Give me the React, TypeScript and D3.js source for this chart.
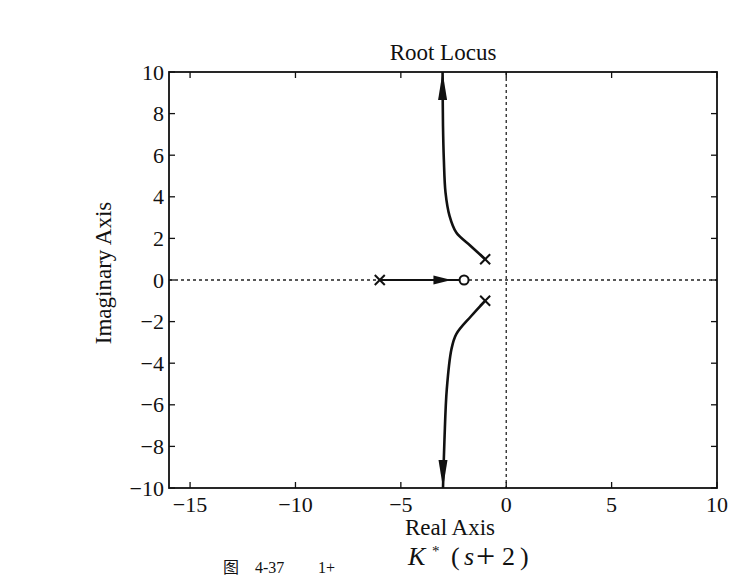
import React from "react";
import * as d3 from "d3";

const xTicks = [-15, -10, -5, 0, 5, 10];
const yTicks = [-10, -8, -6, -4, -2, 0, 2, 4, 6, 8, 10];
const xDomain = [-16, 10];
const yDomain = [-10, 10];

const poles: [number, number][] = [[-6, 0], [-1, 1], [-1, -1]];
const zeros: [number, number][] = [[-2, 0]];

const upperBranch: [number, number][] = [
  [-1, 1], [-1.7, 1.65], [-2.37, 2.28], [-2.69, 3.08], [-2.88, 4.2],
  [-2.96, 5.8], [-3.0, 7.4], [-3.02, 10],
];
const lowerBranch: [number, number][] = [
  [-1, -1], [-1.66, -1.73], [-2.37, -2.6], [-2.6, -3.33], [-2.82, -5.25],
  [-2.93, -7.66], [-3.0, -10],
];
const realBranch: [number, number][] = [[-6, 0], [-2, 0]];
const realArrowTip = -2.6;

const title = "Root Locus";
const xLabel = "Real Axis";
const yLabel = "Imaginary Axis";

const W = 740, H = 580;
const L = 169, R = 717, T = 72, B = 488;
const FONT = "'Liberation Serif', 'Times New Roman', serif";

const fmt = (v: number) => (v < 0 ? "\u2212" + Math.abs(v) : String(v));

export default function App() {
  const x = d3.scaleLinear().domain(xDomain).range([L, R]);
  const y = d3.scaleLinear().domain(yDomain).range([B, T]);
  const line = d3.line<[number, number]>().x(d => x(d[0])).y(d => y(d[1])).curve(d3.curveCatmullRom.alpha(0.5));

  const arrowLen = 28, arrowHalf = 4.5;
  const upTip = upperBranch[upperBranch.length - 1];
  const dnTip = lowerBranch[lowerBranch.length - 1];
  const upArrow = `M${x(upTip[0])},${y(upTip[1])} L${x(upTip[0]) - arrowHalf},${y(upTip[1]) + arrowLen} L${x(upTip[0]) + arrowHalf},${y(upTip[1]) + arrowLen} Z`;
  const dnArrow = `M${x(dnTip[0])},${y(dnTip[1])} L${x(dnTip[0]) - arrowHalf},${y(dnTip[1]) - arrowLen} L${x(dnTip[0]) + arrowHalf},${y(dnTip[1]) - arrowLen} Z`;
  const rx = x(realArrowTip), ry = y(0);
  const rArrow = `M${rx},${ry} L${rx - 18},${ry - 4.5} L${rx - 18},${ry + 4.5} Z`;

  const tickLen = 6;
  const mk = 5;

  return (
    <svg width={W} height={H} style={{ position: "fixed", left: 0, top: 0, background: "#fff" }} fontFamily={FONT}>
      <rect x={0} y={0} width={W} height={H} fill="#fff" />
      <line x1={L} x2={R} y1={y(0)} y2={y(0)} stroke="#222" strokeWidth={1.3} strokeDasharray="3,3" />
      <line x1={x(0)} x2={x(0)} y1={T} y2={B} stroke="#222" strokeWidth={1.3} strokeDasharray="3,3" />
      {xTicks.map(t => (
        <g key={"xt" + t}>
          <line x1={x(t)} x2={x(t)} y1={B} y2={B - tickLen} stroke="#111" strokeWidth={1.3} />
          <line x1={x(t)} x2={x(t)} y1={T} y2={T + tickLen} stroke="#111" strokeWidth={1.3} />
          <text x={x(t)} y={512} textAnchor="middle" fontSize={22} fill="#111">{fmt(t)}</text>
        </g>
      ))}
      {yTicks.map(t => (
        <g key={"yt" + t}>
          <line x1={L} x2={L + tickLen} y1={y(t)} y2={y(t)} stroke="#111" strokeWidth={1.3} />
          <line x1={R} x2={R - tickLen} y1={y(t)} y2={y(t)} stroke="#111" strokeWidth={1.3} />
          <text x={164} y={y(t) + 7.5} textAnchor="end" fontSize={22} fill="#111">{fmt(t)}</text>
        </g>
      ))}
      <rect x={L} y={T} width={R - L} height={B - T} fill="none" stroke="#111" strokeWidth={1.8} />
      <path d={line(upperBranch) || ""} fill="none" stroke="#111" strokeWidth={2.6} />
      <path d={line(lowerBranch) || ""} fill="none" stroke="#111" strokeWidth={2.6} />
      <path d={d3.line<[number, number]>().x(d => x(d[0])).y(d => y(d[1]))(realBranch) || ""} fill="none" stroke="#111" strokeWidth={2.2} />
      <path d={upArrow} fill="#111" />
      <path d={dnArrow} fill="#111" />
      <path d={rArrow} fill="#111" />
      {poles.map((p, i) => (
        <g key={"p" + i} stroke="#111" strokeWidth={2}>
          <line x1={x(p[0]) - mk} x2={x(p[0]) + mk} y1={y(p[1]) - mk} y2={y(p[1]) + mk} />
          <line x1={x(p[0]) - mk} x2={x(p[0]) + mk} y1={y(p[1]) + mk} y2={y(p[1]) - mk} />
        </g>
      ))}
      {zeros.map((z, i) => (
        <circle key={"z" + i} cx={x(z[0])} cy={y(z[1])} r={4.5} fill="#fff" stroke="#111" strokeWidth={2} />
      ))}
      <text x={(L + R) / 2} y={60} textAnchor="middle" fontSize={23} fill="#111">{title}</text>
      <text x={450} y={535} textAnchor="middle" fontSize={23} fill="#111">{xLabel}</text>
      <text transform={`translate(111,273) rotate(-90)`} textAnchor="middle" fontSize={23} fill="#111">{yLabel}</text>
      {/* caption */}
      <g fontSize={26} fill="#111">
        <text x={408} y={565} fontStyle="italic">K</text>
        <text x={432} y={556} fontSize={15}>*</text>
        <text x={451} y={565}>(</text>
        <text x={464} y={565} fontStyle="italic">s</text>
        <text x={476} y={567} fontSize={34}>+</text>
        <text x={502} y={565}>2</text>
        <text x={520} y={565}>)</text>
      </g>
      <g fontSize={16} fill="#111">
        <text x={223} y={573} fontFamily="'Noto Sans CJK SC', serif">图</text>
        <text x={255} y={573}>4-37</text>
        <text x={318} y={573}>1+</text>
      </g>
    </svg>
  );
}
